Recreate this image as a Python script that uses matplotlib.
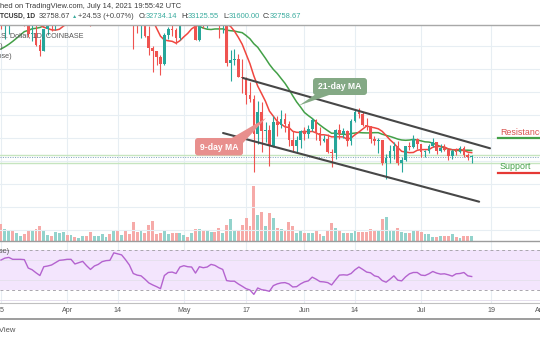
import matplotlib
matplotlib.use("Agg")
import matplotlib.pyplot as plt
import matplotlib.dates as mdates
from matplotlib import font_manager
from matplotlib.patches import FancyBboxPatch, Polygon
from matplotlib.transforms import blended_transform_factory
import numpy as np
import pandas as pd

W, H = 540, 340

# ---- BTC/USD daily candles, Coinbase ----
dates = pd.date_range("2021-03-15", "2021-07-14", freq="D")

opens = [59000, 55600, 56900, 58900, 57650, 58000, 58100, 57350, 54100, 54350,
         52300, 51300, 55050, 55850, 55800, 57600, 58750, 58800, 58750, 59000,
         57100, 58200, 59100, 58000, 56000, 58100, 58100, 59800, 59900, 59800,
         63600, 62950, 63200, 61400, 60000, 56200, 55700, 56500, 53800, 51700,
         51200, 50100, 49000, 54000, 55000, 54850, 53550, 57700, 57800, 56600,
         57200, 53200, 57500, 56400, 57400, 58900, 58200, 55800, 56700, 49150,
         49700, 49900, 46750, 46450, 43550, 42900, 36700, 40600, 37300, 37500,
         34700, 38800, 38300, 39300, 38500, 35700, 34600, 35700, 37300, 36700,
         37600, 39200, 36850, 35500, 35800, 33600, 33400, 37400, 36700, 37300,
         35550, 39000, 40500, 40150, 38350, 38100, 35800, 35500, 35600, 31600,
         32500, 33700, 34650, 31600, 32250, 34700, 34500, 35900, 35050, 33500,
         33800, 34700, 35300, 33700, 34200, 33860, 32880, 33800, 33500, 34250,
         33100, 32734.14]
highs = [60600, 56900, 58950, 60000, 59450, 59900, 58600, 58400, 55850, 57200,
         53250, 55100, 56600, 56600, 58400, 59400, 59800, 59500, 60000, 59800,
         58500, 59300, 59500, 58650, 58200, 58900, 61200, 60700, 61200, 63800,
         64900, 63800, 63500, 62500, 60400, 57500, 57000, 56800, 55500, 52100,
         51200, 50550, 54400, 55450, 56400, 55200, 58000, 58500, 57950, 58950,
         57200, 57950, 58350, 58650, 59500, 59300, 59550, 56900, 58000, 51350,
         51500, 50700, 49800, 46650, 45800, 43600, 42500, 42250, 38850, 38250,
         39900, 39850, 40900, 40400, 38900, 37300, 36450, 37500, 37900, 38250,
         39450, 39300, 37900, 36500, 36800, 34100, 37550, 38400, 37700, 37450,
         39400, 41000, 41300, 40500, 39550, 38200, 36450, 36100, 35750, 33300,
         34800, 35300, 35500, 32700, 34700, 35300, 36600, 36000, 35050, 33950,
         34950, 35950, 35300, 35000, 35050, 33900, 34100, 34300, 34600, 34650,
         33350, 33125.55]
lows = [55000, 53300, 54100, 57000, 56300, 57800, 55500, 53650, 53000, 52000,
        50400, 51300, 53950, 54700, 54900, 57000, 56900, 57900, 58500, 56900,
        56500, 56800, 57300, 55500, 55900, 57700, 57900, 59300, 59400, 59800,
        61300, 62050, 60000, 59600, 51500, 54300, 53400, 53650, 50450, 47500,
        48800, 47000, 48800, 53300, 53900, 52400, 53050, 57050, 56000, 56450,
        53050, 52900, 55300, 55300, 56950, 56300, 53450, 54400, 48600, 46000,
        48850, 46600, 43850, 42000, 42300, 30000, 35000, 33500, 35300, 31100,
        34450, 36450, 37800, 37150, 34700, 33650, 33450, 34200, 35700, 35950,
        37200, 35600, 34800, 35250, 33350, 31000, 32400, 35800, 35950, 34650,
        34800, 38750, 39500, 38100, 37400, 35150, 34850, 33350, 31300, 28800,
        31700, 32300, 31300, 30150, 32050, 33900, 34250, 34050, 32700, 32700,
        33350, 34400, 33150, 33550, 33800, 32100, 32300, 33050, 33350, 32700,
        32200, 31600.00]
closes = [55600, 56900, 58900, 57650, 58000, 58100, 57350, 54100, 54350, 52300,
          51300, 55050, 55850, 55800, 57600, 58750, 58800, 58750, 59000, 57100,
          58200, 59100, 58000, 56000, 58100, 58100, 59800, 59900, 59800, 63600,
          62950, 63200, 61400, 60000, 56200, 55700, 56500, 53800, 51700, 51200,
          50100, 49000, 54000, 55000, 54850, 53550, 57700, 57800, 56600, 57200,
          53200, 57500, 56400, 57400, 58900, 58200, 55800, 56700, 49150, 49700,
          49900, 46750, 46450, 43550, 42900, 36700, 40600, 37300, 37500, 34700,
          38800, 38300, 39300, 38500, 35700, 34600, 35700, 37300, 36700, 37600,
          39200, 36850, 35500, 35800, 33600, 33400, 37400, 36700, 37300, 35550,
          39000, 40500, 40150, 38350, 38100, 35800, 35500, 35600, 31600, 32500,
          33700, 34650, 31600, 32250, 34700, 34500, 35900, 35050, 33500, 33800,
          34700, 35300, 33700, 34200, 33860, 32880, 33800, 33500, 34250, 33100,
          32730, 32758.67]
# closes of the 21 sessions before the first candle (MA warm-up)
prior_closes = [54100, 48900, 49700, 47000, 46300, 46150, 45150, 49600, 48400, 50500,
                48400, 48800, 48900, 51000, 52400, 54900, 55900, 57800, 57250, 61200,
                59000]
# daily volume, thousand BTC
volumes = [30.4, 22.3, 20.5, 19.2, 14.9, 9.9, 11.8, 18.0, 18.0, 21.7,
           27.3, 17.4, 11.2, 9.9, 16.1, 14.3, 16.1, 11.2, 11.2, 8.1,
           6.2, 9.9, 9.9, 16.1, 8.7, 8.7, 11.8, 8.1, 11.8, 17.4,
           20.5, 11.2, 18.6, 11.8, 34.1, 16.1, 17.4, 14.9, 28.5, 36.0,
           13.0, 14.3, 17.4, 13.0, 14.9, 14.9, 14.9, 11.2, 8.1, 14.3,
           21.7, 21.7, 17.4, 17.4, 15.5, 16.1, 23.6, 14.3, 28.5, 39.1,
           20.5, 20.5, 29.1, 40.9, 26.7, 99.8, 47.1, 52.1, 27.9, 50.2,
           40.9, 24.2, 22.3, 19.2, 34.1, 26.7, 14.9, 18.0, 14.9, 14.3,
           14.3, 17.4, 13.0, 8.7, 17.4, 31.6, 24.2, 19.2, 14.3, 14.3,
           14.9, 20.5, 16.7, 16.7, 16.1, 22.3, 18.0, 19.2, 39.1, 44.0,
           20.5, 17.4, 24.2, 16.1, 14.3, 14.3, 17.4, 17.4, 16.1, 11.8,
           11.8, 6.8, 6.8, 9.9, 9.9, 9.9, 13.0, 8.1, 5.6, 9.3,
           9.9, 9.3]
# RSI(14, close)
rsi = [59.6, 61.5, 62.2, 60.3, 60.3, 60.3, 60.0, 51.7, 50.0, 47.0,
       44.3, 53.0, 53.7, 54.7, 57.0, 59.3, 59.7, 60.3, 60.3, 55.7,
       57.0, 58.3, 54.0, 50.3, 53.7, 55.3, 58.0, 59.0, 59.3, 66.7,
       65.7, 64.7, 60.0, 54.7, 46.3, 44.7, 44.0, 40.7, 37.0, 35.0,
       33.3, 31.3, 44.3, 47.3, 47.7, 46.3, 52.7, 54.0, 53.0, 52.7,
       46.7, 53.0, 52.0, 52.7, 55.3, 54.3, 52.0, 50.3, 39.3, 38.7,
       38.7, 36.0, 33.7, 31.3, 30.0, 25.7, 32.0, 30.3, 29.7, 28.7,
       34.3, 36.0, 37.0, 37.3, 36.0, 33.0, 33.3, 36.0, 38.0, 39.0,
       42.7, 40.7, 38.3, 38.0, 37.3, 35.0, 40.0, 44.7, 45.0, 44.7,
       46.3, 50.0, 52.7, 50.3, 47.7, 47.0, 44.0, 43.0, 39.3, 37.7,
       40.7, 44.0, 39.7, 39.0, 43.0, 46.0, 47.3, 47.3, 44.7, 44.3,
       46.0, 48.3, 46.7, 45.7, 46.0, 45.0, 43.7, 46.0, 46.3, 47.3,
       44.0, 43.3]

tick_dates = ["2021-03-15", "2021-04-01", "2021-04-14", "2021-05-01", "2021-05-17",
              "2021-06-01", "2021-06-14", "2021-07-01", "2021-07-19", "2021-08-01"]
tick_labels = ["15", "Apr", "14", "May", "17", "Jun", "14", "Jul", "19", "Aug"]

# drawn channel (trend lines) and horizontal levels
upper_channel_t = ["2021-05-16 05:00", "2021-07-18 17:00"]
upper_channel_p = [46500, 34220]
lower_channel_t = ["2021-05-11 02:00", "2021-07-15 22:00"]
lower_channel_p = [36890, 24890]
resistance_level = 33125.55
support_level = 31600.00
last_price = 32758.67

# ---------------------------------------------------------------
available = {f.name for f in font_manager.fontManager.ttflist}
SANS = "Liberation Sans" if "Liberation Sans" in available else "DejaVu Sans"
FAM = [SANS, "DejaVu Sans"]

UP, DOWN = "#26a69a", "#ef5350"
UP_V, DOWN_V = "#93d3cc", "#f6aaa8"
GRID = "#e7eef3"

fig = plt.figure(figsize=(W / 100, H / 100), dpi=100)
fig.patch.set_facecolor("white")
renderer = fig.canvas.get_renderer()


def fitted_size(s, width_px, **kw):
    """Font size at which string s is width_px pixels wide."""
    t = fig.text(0, 0, s, fontsize=10, family=FAM, **kw)
    w = t.get_window_extent(renderer).width
    t.remove()
    return 10.0 * width_px / w


def rect(top, bottom):
    return [0, 1 - bottom / H, 1, (bottom - top) / H]


x = mdates.date2num(dates)
d0 = x[0]
xlim = (d0 - 0.257, d0 + 138.56)

o = np.array(opens, float)
hi = np.array(highs, float)
lo = np.array(lows, float)
c = np.array(closes, float)
up = c >= o

# volume pane (underneath the price pane)
ax_vol = fig.add_axes(rect(25, 241))
ax_vol.set_xlim(*xlim)
ax_vol.set_ylim(0, 388.8)
ax_vol.axis("off")
tick_x = mdates.date2num(pd.to_datetime(tick_dates))
for tx in tick_x:
    ax_vol.axvline(tx, color=GRID, lw=0.8, zorder=0)
ax_vol.bar(x, volumes, width=0.75, color=np.where(up, UP_V, DOWN_V), linewidth=0, zorder=2)

# price pane
ax = fig.add_axes(rect(25, 241), sharex=ax_vol)
ax.set_facecolor("none")
ax.set_xlim(*xlim)
ax.set_ylim(18026, 55755)
ax.axis("off")
for lvl in range(20000, 56001, 4000):
    ax.axhline(lvl, color=GRID, lw=0.8, zorder=0)
# support / resistance shelves and last price
ax.axhline(resistance_level, color="#c6e5bf", lw=1.0, zorder=1)
ax.axhline(support_level, color="#c6e5bf", lw=1.0, zorder=1)
ax.axhline(last_price, color="#7f9fbf", lw=0.7, ls=(0, (1, 1.5)), zorder=1)

# moving averages
all_closes = pd.Series(list(prior_closes) + list(closes))
ma9 = all_closes.rolling(9).mean().values[len(prior_closes):]
ma21 = all_closes.rolling(21).mean().values[len(prior_closes):]
ax.plot(x, ma21, color="#43a047", lw=1.1, zorder=3)
ax.plot(x, ma9, color="#f0463f", lw=1.1, zorder=3)

# candles
cols = np.where(up, UP, DOWN)
ax.vlines(x, lo, hi, colors=cols, lw=0.8, zorder=4)
body_lo = np.minimum(o, c)
body_h = np.maximum(np.abs(c - o), 100)
ax.bar(x, body_h, bottom=body_lo, width=0.68, color=cols, linewidth=0, zorder=5)

# channel
ax.plot(mdates.date2num(pd.to_datetime(upper_channel_t)), upper_channel_p,
        color="#474747", lw=1.5, zorder=6, solid_capstyle="round")
ax.plot(mdates.date2num(pd.to_datetime(lower_channel_t)), lower_channel_p,
        color="#474747", lw=1.5, zorder=6, solid_capstyle="round")

# RSI pane
ax_r = fig.add_axes(rect(241, 302.5), sharex=ax_vol)
ax_r.set_xlim(*xlim)
ax_r.set_ylim(17.65, 78.4)
ax_r.axis("off")
for tx in tick_x:
    ax_r.axvline(tx, color=GRID, lw=0.8, zorder=0)
ax_r.axhspan(30, 70, color="#f3e5fd", lw=0, zorder=0.5)
for lvl in (20, 40, 60):
    ax_r.axhline(lvl, color="#e6e0ee", lw=0.7, zorder=0.8)
for lvl in (30, 70):
    ax_r.axhline(lvl, color="#a9a6ad", lw=0.7, ls=(0, (3, 3)), zorder=1)
ax_r.plot(x, rsi, color="#b463cf", lw=1.0, zorder=3)

# overlay in pixel coordinates for frame lines, labels and callouts
ov = fig.add_axes([0, 0, 1, 1])
ov.set_xlim(0, W)
ov.set_ylim(H, 0)
ov.axis("off")
ov.set_facecolor("none")

ov.plot([0, W], [25, 25], color="#a8a8a8", lw=1.0)
ov.plot([0, W], [241, 241], color="#9c9c9c", lw=1.0)
ov.plot([0, W], [302.5, 302.5], color="#c0c0c0", lw=0.8)
ov.plot([0, W], [319, 319], color="#8c8c8c", lw=1.2)

# time axis labels
tick_fs = fitted_size("May", 13.5)
tl_tr = blended_transform_factory(ax_r.transData, fig.transFigure)
for tx, lab in zip(tick_x, tick_labels):
    fig.text(tx, 1 - 310.5 / H, lab, transform=tl_tr, ha="center", va="center",
             fontsize=tick_fs, color="#555555", family=FAM)

# header
line1 = "hed on TradingView.com, July 14, 2021 19:55:42 UTC"
ov.text(0, 6.8, line1, color="#3a3a3a", va="center",
        fontsize=fitted_size(line1, 180), family=FAM)
TEAL_T = "#3aab9e"
fs2 = fitted_size("32758.67", 31.5)
fs2b = fitted_size("TCUSD, 1D", 35, fontweight="bold")
segs = [("TCUSD, 1D", 0, "#333333", "bold"), ("32758.67", 39, "#444444", "normal"),
        ("\u25b2", 71.5, TEAL_T, "normal"), ("+24.53 (+0.07%)", 77.5, "#444444", "normal"),
        ("O:", 139, "#333333", "normal"), ("32734.14", 145.5, TEAL_T, "normal"),
        ("H:", 181.5, "#333333", "normal"), ("33125.55", 187.5, TEAL_T, "normal"),
        ("L:", 223, "#333333", "normal"), ("31600.00", 228.5, TEAL_T, "normal"),
        ("C:", 263, "#333333", "normal"), ("32758.67", 270, TEAL_T, "normal")]
for s, sx, col, wt in segs:
    size = fs2b if wt == "bold" else fs2
    if s == "\u25b2":
        size = fs2 * 0.7
    ov.text(sx, 16.7, s, color=col, fontweight=wt, va="center", fontsize=size, family=FAM)

leg_fs = fitted_size("S. Dollar, 1D, COINBASE", 82)
leg = dict(va="center", fontsize=leg_fs, color="#555555", family=FAM)
ov.text(83, 36, "U.S. Dollar, 1D, COINBASE", ha="right", **leg)
ov.text(3, 46, "MA (9, close)", ha="right", **leg)
ov.text(12, 56, "MA (21, close)", ha="right", **leg)
ov.text(9, 251.5, "RSI (14, close)", ha="right", **leg)
ov.text(16.5, 330.5, "TradingView", ha="right", va="center",
        fontsize=fitted_size("View", 16.5), color="#555555", family=FAM)


def callout(x0, y0, x1, y1, tail, text, color, fs):
    ov.add_patch(Polygon(tail, closed=True, facecolor=color, edgecolor="none", zorder=7))
    ov.add_patch(FancyBboxPatch((x0, y0), x1 - x0, y1 - y0,
                                boxstyle="round,pad=0,rounding_size=3",
                                facecolor=color, edgecolor="none", zorder=8))
    ov.text((x0 + x1) / 2, (y0 + y1) / 2 + 0.3, text, ha="center", va="center",
            color="white", fontsize=fs, fontweight="bold", family=FAM, zorder=9)


co_fs = fitted_size("21-day MA", 43, fontweight="bold")
callout(195, 138, 243, 155.5, [(230, 139), (243, 143), (266, 118)], "9-day MA", "#e88f8d", co_fs)
callout(313, 78, 367, 95, [(316, 94), (332, 94), (299, 105.5)], "21-day MA", "#84a985", co_fs)

sr_fs = fitted_size("Support", 31)
lab = dict(va="center", fontsize=sr_fs, family=FAM)
ov.text(500, 132.8, "Resistance", color="#d9534f", **lab)
ov.plot([498, W], [138.3, 138.3], color="#43a047", lw=1.6)
ov.text(500, 166.2, "Support", color="#43a047", **lab)
ov.plot([498, W], [172.7, 172.7], color="#e53935", lw=1.6)

fig.savefig("out.png", dpi=100, facecolor="white")
